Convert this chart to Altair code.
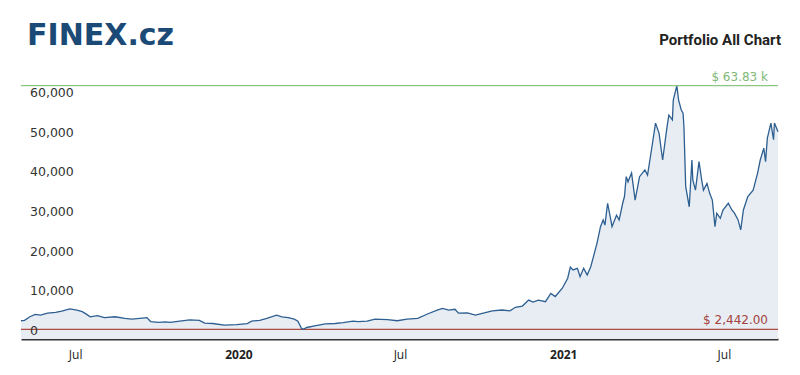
import altair as alt
import pandas as pd

dates = [
    "2019-05-01", "2019-05-05", "2019-05-11", "2019-05-17", "2019-05-23", "2019-05-31",
    "2019-06-09", "2019-06-16", "2019-06-25", "2019-07-03", "2019-07-09", "2019-07-14",
    "2019-07-18", "2019-07-26", "2019-08-03", "2019-08-15", "2019-08-26", "2019-09-03",
    "2019-09-12", "2019-09-20", "2019-09-24", "2019-10-03", "2019-10-11", "2019-10-16",
    "2019-10-27", "2019-11-07", "2019-11-18", "2019-11-24", "2019-12-03", "2019-12-16",
    "2019-12-30", "2020-01-11", "2020-01-16", "2020-01-25", "2020-02-02", "2020-02-13",
    "2020-02-19", "2020-02-26", "2020-03-04", "2020-03-08", "2020-03-12", "2020-03-14",
    "2020-03-18", "2020-03-27", "2020-04-08", "2020-04-19", "2020-04-28", "2020-05-09",
    "2020-05-15", "2020-05-25", "2020-06-03", "2020-06-17", "2020-06-28", "2020-07-09",
    "2020-07-21", "2020-08-01", "2020-08-12", "2020-08-18", "2020-08-25", "2020-09-01",
    "2020-09-05", "2020-09-15", "2020-09-24", "2020-10-03", "2020-10-13", "2020-10-24",
    "2020-11-02", "2020-11-08", "2020-11-16", "2020-11-23", "2020-11-28", "2020-12-04",
    "2020-12-12", "2020-12-18", "2020-12-23", "2020-12-31", "2021-01-06", "2021-01-09",
    "2021-01-12", "2021-01-17", "2021-01-20", "2021-01-24", "2021-01-28", "2021-02-01",
    "2021-02-04", "2021-02-08", "2021-02-12", "2021-02-15", "2021-02-17", "2021-02-20",
    "2021-02-23", "2021-02-25", "2021-03-02", "2021-03-05", "2021-03-09", "2021-03-11",
    "2021-03-13", "2021-03-15", "2021-03-19", "2021-03-23", "2021-03-28", "2021-04-03",
    "2021-04-06", "2021-04-11", "2021-04-15", "2021-04-19", "2021-04-23", "2021-04-28",
    "2021-04-30", "2021-05-04", "2021-05-05", "2021-05-09", "2021-05-11", "2021-05-14",
    "2021-05-16", "2021-05-17", "2021-05-19", "2021-05-23", "2021-05-26", "2021-05-27",
    "2021-05-30", "2021-06-03", "2021-06-06", "2021-06-08", "2021-06-12", "2021-06-15",
    "2021-06-18", "2021-06-21", "2021-06-23", "2021-06-27", "2021-06-30", "2021-07-06",
    "2021-07-10", "2021-07-13", "2021-07-17", "2021-07-20", "2021-07-23", "2021-07-28",
    "2021-08-03", "2021-08-08", "2021-08-11", "2021-08-15", "2021-08-17", "2021-08-19",
    "2021-08-23", "2021-08-26", "2021-08-27", "2021-08-31",
]

values = [
    4600, 4700, 5600, 6200, 6000, 6500,
    6700, 7000, 7600, 7300, 6900, 6200,
    5600, 5900, 5400, 5600, 5200, 5000,
    5200, 5400, 4400, 4200, 4300, 4200,
    4500, 4800, 4700, 4000, 3900, 3500,
    3600, 3900, 4500, 4700, 5200, 6000,
    5600, 5400, 5000, 4500, 2700, 2442,
    2900, 3300, 3800, 3900, 4100, 4500,
    4400, 4500, 5000, 4900, 4600, 5000,
    5200, 6300, 7300, 7700, 7300, 7500,
    6500, 6600, 6000, 6500, 7100, 7300,
    7100, 8000, 8300, 9800, 9300, 9800,
    9400, 11500, 10700, 12800, 15300, 18100,
    17400, 17800, 15700, 17800, 16100, 18200,
    20700, 24100, 28300, 30000, 28700, 34200,
    30800, 28300, 31200, 30000, 34200, 35900,
    40900, 39600, 41800, 35000, 40900, 42600,
    41300, 48500, 54400, 51800, 45100, 53500,
    56400, 55200, 60200, 63830, 60200, 57700,
    56900, 53500, 38400, 33300, 45100, 40100,
    37500, 44700, 40100, 37500, 39200, 36700,
    35000, 28300, 31700, 30400, 32500, 34200,
    32500, 31700, 30000, 27500, 32500, 35900,
    37500, 41800, 45100, 48100, 44700, 50600,
    54400, 50200, 54400, 52200,
]

y_ticks = [0, 10000, 20000, 30000, 40000, 50000, 60000]
x_ticks = [(2019, 7), (2020, 1), (2020, 7), (2021, 1), (2021, 7)]
logo_text = ["FINEX.cz"]
title_text = ["Portfolio All Chart"]

df = pd.DataFrame({"date": dates, "value": values})

W, H = 757, 256

xscale = alt.Scale(
    type="utc",
    domain=[alt.DateTime(year=2019, month=5, date=1, utc=True),
            alt.DateTime(year=2021, month=8, date=31, utc=True)],
    nice=False,
)
yscale = alt.Scale(domain=[0, 64500], nice=False, zero=True)

xaxis = alt.Axis(
    values=[alt.DateTime(year=y, month=m, date=1, utc=True) for y, m in x_ticks],
    labelExpr="utcmonth(datum.value) == 0 ? utcFormat(datum.value, '%Y') : utcFormat(datum.value, '%b')",
    labelFontWeight={"expr": "utcmonth(datum.value) == 0 ? 'bold' : 'normal'"},
    labelFont="Open Sans",
    labelFontSize=12,
    labelColor="#222222",
    labelPadding=10,
    ticks=False,
    grid=False,
    domainColor="#333333",
    domainWidth=2,
    title=None,
)

base = alt.Chart(df)
X = alt.X("date:T", scale=xscale, axis=xaxis)
Y = alt.Y("value:Q", scale=yscale, axis=None)

area = base.mark_area(color="#e8edf4", opacity=1).encode(x=X, y=Y)
line = base.mark_line(color="#2d5f91", strokeWidth=1.3).encode(x=X, y=Y)

max_rule = base.transform_aggregate(top_val="max(value)").mark_rule(
    stroke="#8cc683", color="#8cc683", strokeWidth=1.2, opacity=1).encode(
    y=alt.Y("top_val:Q", scale=yscale, axis=None))
min_rule = base.transform_aggregate(low_val="min(value)").mark_rule(
    stroke="#ad4a42", color="#ad4a42", strokeWidth=1.2, opacity=1).encode(
    y=alt.Y("low_val:Q", scale=yscale, axis=None))

max_label = base.transform_aggregate(top_lab="max(value)").transform_calculate(
    top_txt="'$ ' + format(datum.top_lab / 1000, '.2f') + ' k'"
).mark_text(align="right", baseline="bottom", dy=-2, font="DejaVu Sans",
            fontSize=12, color="#7fb877").encode(
    x=alt.value(W - 10), y=alt.Y("top_lab:Q", scale=yscale, axis=None),
    text="top_txt:N")

min_label = base.transform_aggregate(low_lab="min(value)").transform_calculate(
    low_txt="'$ ' + format(datum.low_lab, ',.2f')"
).mark_text(align="right", baseline="bottom", dy=-2, font="DejaVu Sans",
            fontSize=12, color="#a3443c").encode(
    x=alt.value(W - 10), y=alt.Y("low_lab:Q", scale=yscale, axis=None),
    text="low_txt:N")

ylabels = alt.Chart(pd.DataFrame({"v": y_ticks})).mark_text(
    align="left", baseline="bottom", dy=-1, font="DejaVu Sans", fontSize=12.5,
    color="#333333").encode(
    x=alt.value(9), y=alt.Y("v:Q", scale=yscale, axis=None),
    text=alt.Text("v:Q", format=","))

logo = alt.Chart(pd.DataFrame({"t": logo_text})).mark_text(
    align="left", baseline="middle", font="DejaVu Sans", fontSize=30,
    fontWeight="bold", color="#1b4a76").encode(
    x=alt.value(6), y=alt.value(-47), text="t:N")

title = alt.Chart(pd.DataFrame({"t": title_text})).mark_text(
    align="right", baseline="middle", font="Roboto",
    fontSize=15, fontWeight="bold", color="#222222").encode(
    x=alt.value(W + 3), y=alt.value(-43), text="t:N")

chart = alt.layer(
    area, min_rule, line, max_rule, max_label, min_label, ylabels, logo, title
).properties(
    width=W, height=H,
    autosize=alt.AutoSizeParams(type="none"),
    padding={"left": 13, "top": 75, "right": 14, "bottom": 28},
    background="white",
).configure_view(stroke=None)

chart.save("out.html", embed_options={"renderer": "svg", "actions": False})
